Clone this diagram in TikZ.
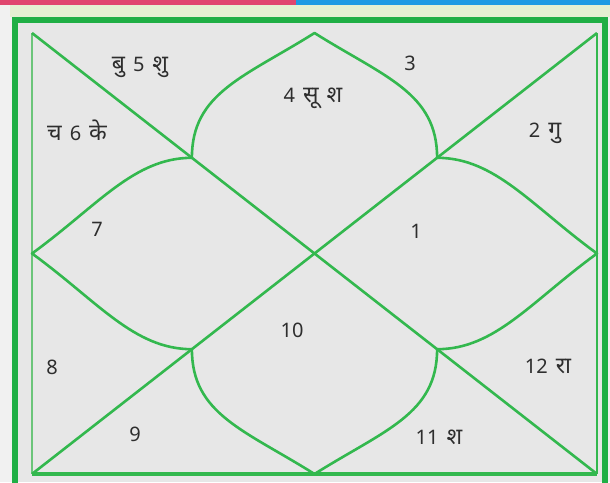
\documentclass[tikz,border=0pt]{standalone}
\usepackage{fontspec}
\setmainfont[Script=Devanagari]{Noto Sans}
\newfontfamily\devfont[Script=Devanagari,Scale=1.15]{Noto Sans}
\newcommand{\dv}[1]{{\devfont #1}}
\newcommand{\housefont}{\fontsize{20}{22}\selectfont\spaceskip=8pt plus 1pt\relax}
\usetikzlibrary{calc}
\definecolor{chartgreen}{HTML}{33B84E}
\definecolor{framegreen}{HTML}{1FAF45}
\definecolor{sidegreen}{HTML}{6CC57A}
\definecolor{topred}{HTML}{E0466F}
\definecolor{topblue}{HTML}{1E9BE3}
\definecolor{band}{HTML}{E4F0D2}
\definecolor{paper}{HTML}{E7E7E7}
\definecolor{margin}{HTML}{F1F1F1}
\definecolor{ink}{HTML}{2E2E2E}

\begin{document}
\begin{tikzpicture}[x=1pt,y=-1pt,
  line/.style={chartgreen,line width=2.6pt,line join=round},
  house/.style={font=\housefont,text=ink,inner sep=0pt}]
  \useasboundingbox (0,0) rectangle (610,482);

  % page background and top strips
  \fill[margin] (0,0) rectangle (610,482);
  \fill[paper] (15,20) rectangle (605,482);
  \fill[band] (10,4) rectangle (610,17);
  \fill[topred] (0,0) rectangle (296,4.5);
  \fill[topblue] (296,0) rectangle (610,4.5);

  % outer frame
  \draw[framegreen,line width=6pt] (15,495) -- (15,20) -- (605,20) -- (605,495);

  % chart corners, centre, petal tips and bases
  \coordinate (nw) at (32,33);
  \coordinate (ne) at (597,33);
  \coordinate (se) at (597,474);
  \coordinate (sw) at (32,474);
  \coordinate (c) at ($(nw)!0.5!(se)$);
  \coordinate (tn) at ($(nw)!0.5!(ne)$);
  \coordinate (ts) at ($(sw)!0.5!(se)$);
  \coordinate (tw) at ($(nw)!0.5!(sw)$);
  \coordinate (te) at ($(ne)!0.5!(se)$);
  \coordinate (bnw) at ($(nw)!0.283!(se)$);
  \coordinate (bse) at ($(se)!0.283!(nw)$);
  \coordinate (bne) at ($(ne)!0.283!(sw)$);
  \coordinate (bsw) at ($(sw)!0.283!(ne)$);

  % chart sides
  \draw[sidegreen,line width=1.8pt] (nw) -- (sw);
  \draw[chartgreen,line width=2.6pt] (ne) -- (se);
  \draw[chartgreen,line width=4.5pt] (sw) -- (se);

  % diagonals
  \draw[line] (nw) -- (se);
  \draw[line] (ne) -- (sw);

  % lotus petals
  \draw[line] (bnw) .. controls +(0,-65) and +(-70,44) .. (tn)
                    .. controls +(70,44) and +(0,-65) .. (bne);
  \draw[line] (bsw) .. controls +(0,65) and +(-70,-44) .. (ts)
                    .. controls +(70,-44) and +(0,65) .. (bse);
  \draw[line] (bnw) .. controls +(-58,0) and +(66,-48) .. (tw)
                    .. controls +(66,48) and +(-58,0) .. (bsw);
  \draw[line] (bne) .. controls +(58,0) and +(-66,-48) .. (te)
                    .. controls +(-66,48) and +(58,0) .. (bse);

  % houses
  \node[house] (h1) at (416,231) {1};
  \node[house] (h2) at (545,133) {2 \dv{गु}};
  \node[house] (h3) at (410,63) {3};
  \node[house] (h4) at (313,98) {4 \dv{सू श}};
  \node[house] (h5) at (140,67) {\dv{बु} 5 \dv{शु}};
  \node[house] (h6) at (77,130) {\dv{च} 6 \dv{के}};
  \node[house] (h7) at (97,229) {7};
  \node[house] (h8) at (52,367) {8};
  \node[house] (h9) at (135,434) {9};
  \node[house] (h10) at (292,330) {10};
  \node[house] (h11) at (439,437) {11 \dv{श}};
  \node[house] (h12) at (548,366) {12 \dv{रा}};
\end{tikzpicture}
\end{document}
